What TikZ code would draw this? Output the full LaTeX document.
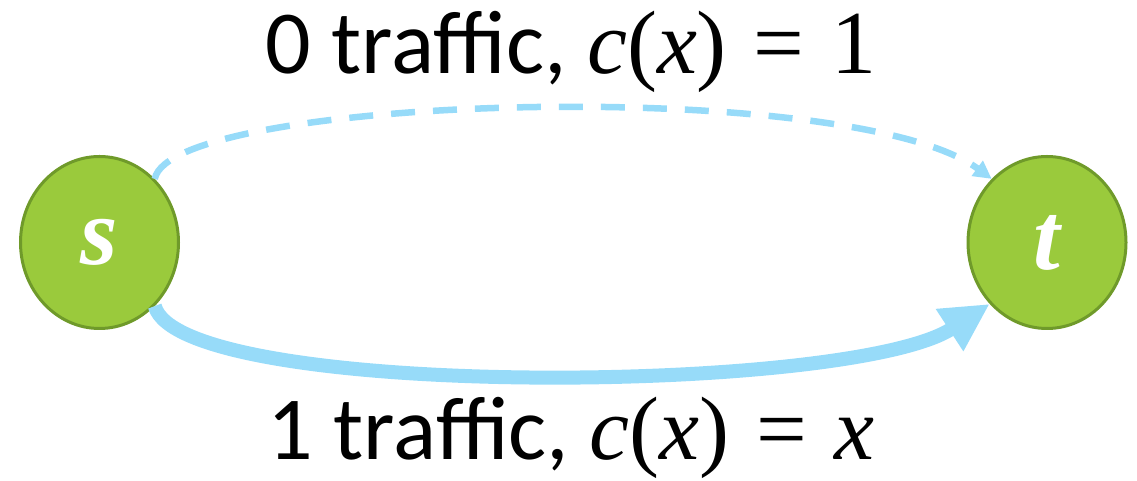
\documentclass[tikz,border=0pt]{standalone}
\usepackage{fontspec}
\setmainfont{Carlito}
\newfontfamily\mathlike{Liberation Serif}
\usetikzlibrary{shapes.geometric,arrows.meta}
\definecolor{nodegreen}{HTML}{9ACA3C}
\definecolor{nodeedge}{HTML}{6F9A2A}
\definecolor{flow}{HTML}{97DBF9}
\newcommand{\mvar}[1]{{\mathlike\itshape #1}}
\newcommand{\mup}[1]{{\mathlike #1}}
\newcommand{\mrel}[1]{\hspace{0.3em}{\mathlike #1}\hspace{0.3em}}
\begin{document}
\begin{tikzpicture}[x=1pt,y=1pt,
  vertex/.style={ellipse, draw=nodeedge, line width=3pt, fill=nodegreen,
    minimum width=158pt, minimum height=172pt, inner sep=0pt, text=white,
    font=\fontsize{96}{96}\selectfont\mathlike\bfseries\itshape},
  lbl/.style={font=\fontsize{90}{90}\selectfont, anchor=base, inner sep=0pt},
  idle/.style={draw=flow, line width=6.5pt, dash pattern=on 24pt off 18pt,
    -{Triangle[length=18pt,width=18pt]}},
  busy/.style={draw=flow, line width=14pt,
    -{Triangle[length=48pt,width=47pt]}}]
\useasboundingbox (0,0) rectangle (1137,481);

% the two vertices
\node[vertex] (s) at (99.5,238.5) {s};
\node[vertex] (t) at (1047,238.5) {t};

% the two routes from s to t
\draw[idle] (s.49) .. controls (170,386) and (850,406) .. (t.131.5);
\draw[busy] (s.-49) .. controls (180,81) and (850,86) .. (t.-133);

% route labels
\node[lbl] (upper) at (571,407) {0 traffic, \mvar{c}\mup{(}\mvar{x}\mup{)}\mrel{=}\mup{1}};
\node[lbl] (lower) at (571,21) {1 traffic, \mvar{c}\mup{(}\mvar{x}\mup{)}\mrel{=}\mvar{x}};
\end{tikzpicture}
\end{document}
